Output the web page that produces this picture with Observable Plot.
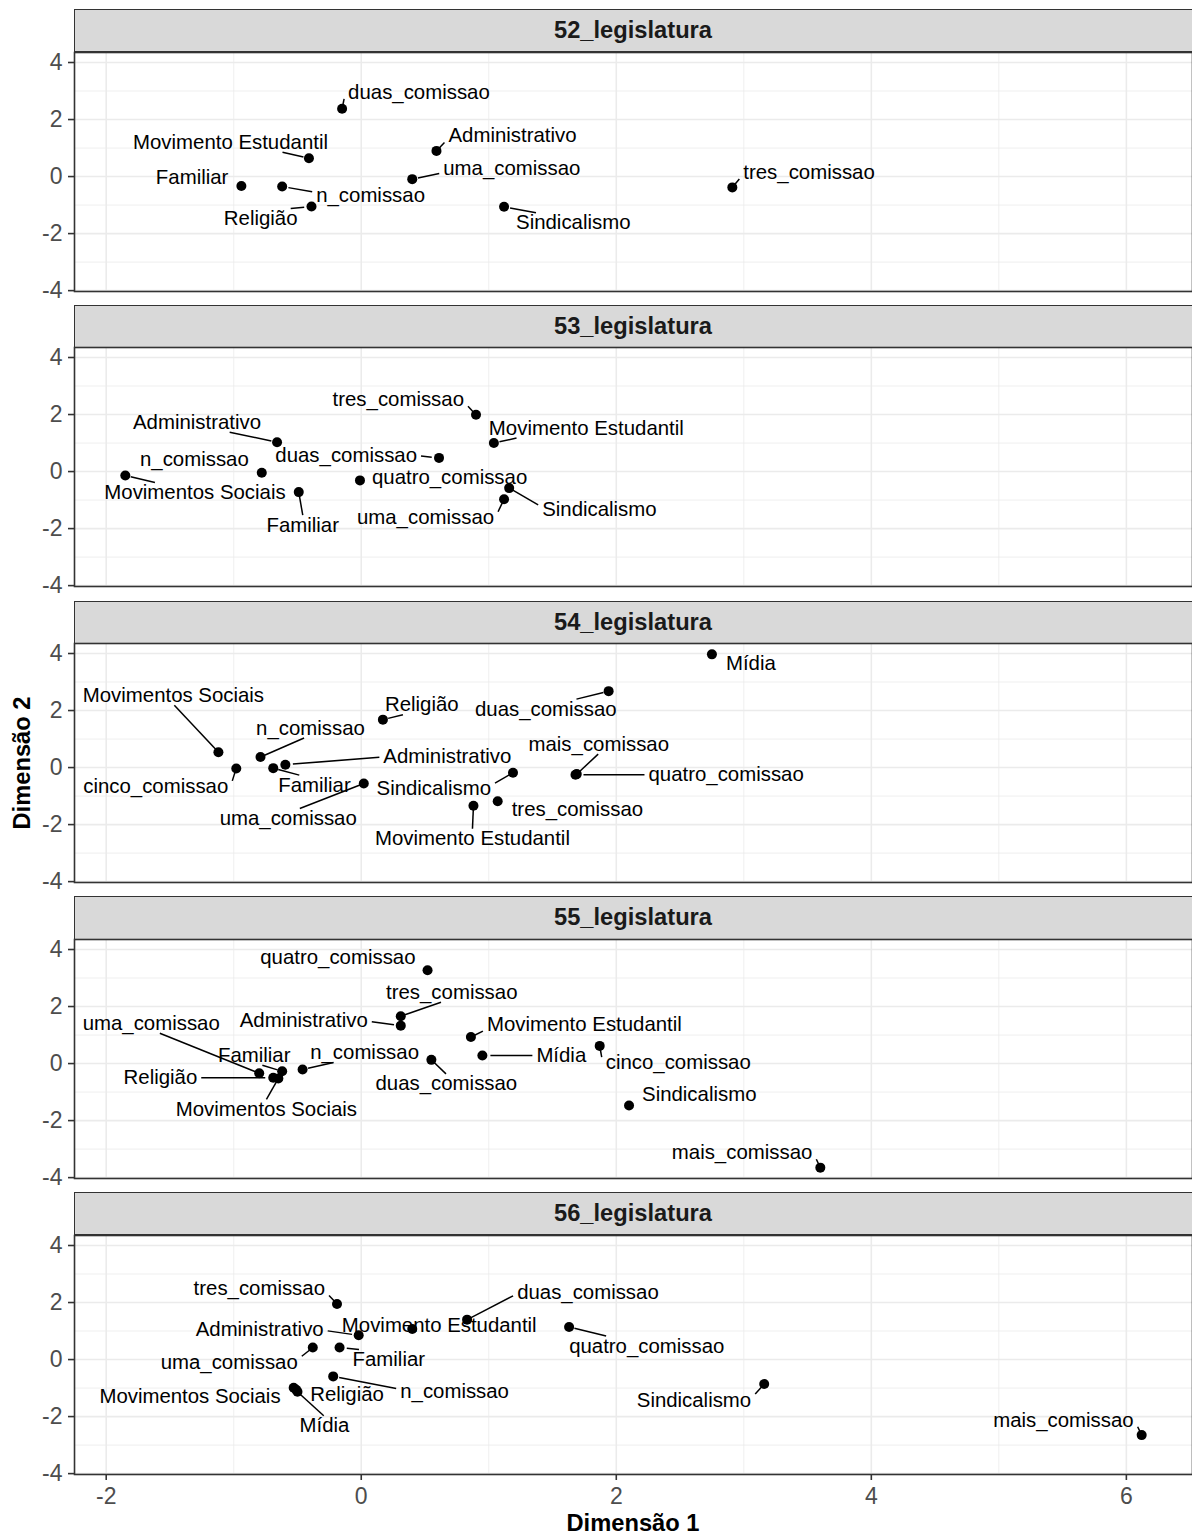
<!DOCTYPE html>
<html>
<head>
<meta charset="utf-8">
<script src="https://cdn.jsdelivr.net/npm/d3@7"></script>
<script src="https://cdn.jsdelivr.net/npm/@observablehq/plot@0.6"></script>
<style>
  html, body { margin: 0; padding: 0; background: #fff; overflow: hidden; }
  body { font-family: "Liberation Sans", Arial, Helvetica, sans-serif; }
  #chart { position: relative; width: 1192px; height: 1536px; overflow: hidden; }
  .strip { position: absolute; left: 74px; width: 1120px; box-sizing: border-box;
           background: #d9d9d9; border: 1.6px solid #333333;
           display: flex; align-items: center; justify-content: center;
           font-weight: bold; font-size: 23.7px; color: #1a1a1a; }
  .strip span { transform: translateX(-1px); }
  .panel { position: absolute; left: 0; }
  .title { position: absolute; font-weight: bold; font-size: 23.7px; color: #000; white-space: nowrap; line-height: 1; }
  svg [aria-label="y-axis tick label"], svg [aria-label="x-axis tick label"] { fill: #4d4d4d; font-size: 23px; }
  svg [aria-label="y-axis tick"], svg [aria-label="x-axis tick"] { stroke: #333333; }
</style>
</head>
<body>
<div id="chart"></div>
<script>
// ---------------- data ----------------
const legislaturas = ["52_legislatura", "53_legislatura", "54_legislatura", "55_legislatura", "56_legislatura"];

const cat52 = ["duas_comissao", "Administrativo", "Movimento Estudantil", "uma_comissao", "Familiar", "n_comissao", "Religião", "Sindicalismo", "tres_comissao"];
const dim1_52 = [-0.15, 0.59, -0.41, 0.40, -0.94, -0.62, -0.39, 1.12, 2.91];
const dim2_52 = [2.38, 0.90, 0.64, -0.09, -0.33, -0.35, -1.05, -1.06, -0.38];

const cat53 = ["tres_comissao", "Movimento Estudantil", "Administrativo", "duas_comissao", "n_comissao", "Movimentos Sociais", "quatro_comissao", "Familiar", "Sindicalismo", "uma_comissao"];
const dim1_53 = [0.90, 1.04, -0.66, 0.61, -0.78, -1.85, -0.01, -0.49, 1.16, 1.12];
const dim2_53 = [1.99, 1.00, 1.03, 0.48, -0.04, -0.14, -0.31, -0.72, -0.58, -0.97];

const cat54 = ["Movimentos Sociais", "cinco_comissao", "n_comissao", "Familiar", "Administrativo", "Religião", "uma_comissao", "Sindicalismo", "Movimento Estudantil", "tres_comissao", "duas_comissao", "Mídia", "mais_comissao", "quatro_comissao"];
const dim1_54 = [-1.12, -0.98, -0.79, -0.69, -0.595, 0.17, 0.02, 1.19, 0.88, 1.07, 1.94, 2.75, 1.69, 1.68];
const dim2_54 = [0.54, -0.03, 0.37, -0.02, 0.10, 1.68, -0.56, -0.18, -1.34, -1.18, 2.68, 3.97, -0.23, -0.25];

const cat55 = ["quatro_comissao", "tres_comissao", "Administrativo", "Movimento Estudantil", "uma_comissao", "Familiar", "Religião", "Movimentos Sociais", "n_comissao", "duas_comissao", "Mídia", "cinco_comissao", "Sindicalismo", "mais_comissao"];
const dim1_55 = [0.52, 0.31, 0.31, 0.86, -0.80, -0.62, -0.69, -0.65, -0.46, 0.55, 0.95, 1.87, 2.10, 3.60];
const dim2_55 = [3.27, 1.66, 1.33, 0.93, -0.34, -0.27, -0.50, -0.52, -0.21, 0.13, 0.28, 0.62, -1.47, -3.65];

const cat56 = ["tres_comissao", "duas_comissao", "Movimento Estudantil", "Administrativo", "uma_comissao", "Familiar", "n_comissao", "Movimentos Sociais", "Religião", "Mídia", "quatro_comissao", "Sindicalismo", "mais_comissao"];
const dim1_56 = [-0.19, 0.83, 0.40, -0.02, -0.38, -0.17, -0.22, -0.53, -0.51, -0.50, 1.63, 3.16, 6.12];
const dim2_56 = [1.95, 1.40, 1.07, 0.85, 0.42, 0.42, -0.59, -0.99, -1.06, -1.13, 1.14, -0.86, -2.65];

const xTicks = [-2, 0, 2, 4, 6];
const xMinor = [-1, 1, 3, 5];
const yTicks = [-4, -2, 0, 2, 4];
const yMinor = [-3, -1, 1, 3];

// ---------------- label layout (repelled label offsets, px: [dx, dy, anchor]) ----------------
const labelNudge = {
  "52_legislatura": {
    "duas_comissao": [6, -16, "start"], "Administrativo": [12, -15, "start"], "Movimento Estudantil": [19, -16, "end"],
    "uma_comissao": [31, -11, "start"], "Familiar": [-13, -9, "end"], "n_comissao": [34, 9, "start"],
    "Religião": [-14, 12, "end"], "Sindicalismo": [12, 16, "start"], "tres_comissao": [11, -15, "start"]
  },
  "53_legislatura": {
    "tres_comissao": [-12, -15, "end"], "Movimento Estudantil": [-5, -15, "start"], "Administrativo": [-16, -20, "end"],
    "duas_comissao": [-22, -2, "end"], "n_comissao": [-13, -13, "end"], "Movimentos Sociais": [-21, 17, "start"],
    "quatro_comissao": [12, -3, "start"], "Familiar": [4, 33, "middle"], "Sindicalismo": [33, 21, "start"],
    "uma_comissao": [-10, 18, "end"]
  },
  "54_legislatura": {
    "Movimentos Sociais": [-45, -57, "middle"], "cinco_comissao": [-8, 18, "end"], "n_comissao": [50, -29, "middle"],
    "Familiar": [5, 17, "start"], "Administrativo": [98, -8, "start"], "Religião": [2, -15, "start"],
    "uma_comissao": [-7, 35, "end"], "Sindicalismo": [-22, 16, "end"], "Movimento Estudantil": [-1, 33, "middle"],
    "tres_comissao": [14, 8, "start"], "duas_comissao": [8, 18, "end"], "Mídia": [14, 9, "start"],
    "mais_comissao": [22, -30, "middle"], "quatro_comissao": [73, 0, "start"]
  },
  "55_legislatura": {
    "quatro_comissao": [-12, -13, "end"], "tres_comissao": [51, -24, "middle"], "Administrativo": [-33, -5, "end"],
    "Movimento Estudantil": [16, -13, "start"], "uma_comissao": [-108, -50, "middle"], "Familiar": [-28, -16, "middle"],
    "Religião": [-76, 0, "end"], "Movimentos Sociais": [-12, 31, "middle"], "n_comissao": [62, -17, "middle"],
    "duas_comissao": [15, 24, "middle"], "Mídia": [54, 0, "start"], "cinco_comissao": [6, 17, "start"],
    "Sindicalismo": [13, -11, "start"], "mais_comissao": [-8, -15, "end"]
  },
  "56_legislatura": {
    "tres_comissao": [-12, -15, "end"], "duas_comissao": [50, -27, "start"], "Movimento Estudantil": [27, -4, "middle"],
    "Administrativo": [-35, -6, "end"], "uma_comissao": [-15, 15, "end"], "Familiar": [13, 12, "start"],
    "n_comissao": [67, 15, "start"], "Movimentos Sociais": [-13, 9, "end"], "Religião": [14, 5, "start"],
    "Mídia": [27, 34, "middle"], "quatro_comissao": [0, 19, "start"], "Sindicalismo": [-13, 16, "end"],
    "mais_comissao": [-8, -15, "end"]
  }
};

// ---------------- build tables ----------------
const series = [
  [cat52, dim1_52, dim2_52], [cat53, dim1_53, dim2_53], [cat54, dim1_54, dim2_54],
  [cat55, dim1_55, dim2_55], [cat56, dim1_56, dim2_56]
];
const facets = legislaturas.map((leg, i) => {
  const [c, a, b] = series[i];
  return { leg, rows: c.map((label, j) => ({ label, x: a[j], y: b[j], leg })) };
});

// shared scales with ggplot's 5% expansion
const allX = facets.flatMap(f => f.rows.map(r => r.x));
const allY = facets.flatMap(f => f.rows.map(r => r.y));
function expand(v) { const lo = d3.min(v), hi = d3.max(v), r = hi - lo; return [lo - 0.05 * r, hi + 0.05 * r]; }
const xDom = expand(allX), yDom = expand(allY);

// geometry
const W = 1192, ML = 74, PW = W - ML, PH = 239;
const STRIP_TOP = 9, STRIP_H = 42.6, STEP = 295.75;
const LABEL_FS = 20.4;
const PAD_R = 8, MIN_SEG = 5, BOX_HH = 10, BOX_PX = 4;

const ctx = document.createElement("canvas").getContext("2d");
ctx.font = `${LABEL_FS}px "Liberation Sans", Arial, sans-serif`;
const textWidth = s => ctx.measureText(s).width;

const toN = (x, y) => [(x - xDom[0]) / (xDom[1] - xDom[0]), (y - yDom[0]) / (yDom[1] - yDom[0])];
const fromN = (nx, ny) => [xDom[0] + nx * (xDom[1] - xDom[0]), yDom[0] + ny * (yDom[1] - yDom[0])];

function selectLineConnection(p, b) {
  const out = [0, 0];
  let top = false, left = false, right = false, bottom = false;
  if (p[0] >= b[0] && p[0] <= b[2]) out[0] = p[0];
  else if (p[0] > b[2]) { out[0] = b[2]; right = true; }
  else { out[0] = b[0]; left = true; }
  if (p[1] >= b[1] && p[1] <= b[3]) out[1] = p[1];
  else if (p[1] > b[3]) { out[1] = b[3]; top = true; }
  else { out[1] = b[1]; bottom = true; }
  const midx = (b[0] + b[2]) / 2, midy = (b[1] + b[3]) / 2;
  const d = Math.hypot(p[0] - out[0], p[1] - out[1]);
  if ((top || bottom) && !(left || right)) {
    const altd = Math.hypot(p[0] - midx, p[1] - out[1]);
    out[0] = out[0] + (midx - out[0]) * d / altd;
  } else if ((left || right) && !(top || bottom)) {
    const altd = Math.hypot(p[0] - out[0], p[1] - midy);
    out[1] = out[1] + (midy - out[1]) * d / altd;
  } else if ((left || right) && (top || bottom)) {
    const altd1 = Math.hypot(p[0] - midx, p[1] - out[1]);
    const altd2 = Math.hypot(p[0] - out[0], p[1] - midy);
    if (altd1 < altd2) out[0] = out[0] + (midx - out[0]) * d / altd1;
    else out[1] = out[1] + (midy - out[1]) * d / altd2;
  }
  return out;
}

function layoutLabels(f) {
  const labels = [], segs = [];
  for (const r of f.rows) {
    const [dx, dy, anchor] = labelNudge[f.leg][r.label];
    const w = textWidth(r.label);
    const cx = dx + (anchor === "start" ? w / 2 : anchor === "end" ? -w / 2 : 0);
    const p = toN(r.x, r.y);
    const c = [p[0] + cx / PW, p[1] - dy / PH];
    const [lx, ly] = fromN(c[0], c[1]);
    labels.push({ label: r.label, lx, ly });
    const hw = (w / 2 + BOX_PX) / PW, hh = BOX_HH / PH;
    const box = [c[0] - hw, c[1] - hh, c[0] + hw, c[1] + hh];
    const inside = p[0] >= box[0] && p[0] <= box[2] && p[1] >= box[1] && p[1] <= box[3];
    if (inside) continue;
    const it = selectLineConnection(p, box);
    const full = Math.hypot(it[0] - p[0], it[1] - p[1]);
    if (full === 0) continue;
    const rad = PAD_R / PW;
    if (full <= rad) continue;
    const pi = [p[0] + (it[0] - p[0]) * rad / full, p[1] + (it[1] - p[1]) * rad / full];
    const ddx = Math.abs(it[0] - pi[0]), ddy = Math.abs(it[1] - pi[1]);
    const d = Math.hypot(ddx, ddy);
    const mx = MIN_SEG / PW, my = MIN_SEG / PH;
    const minLen = Math.hypot(mx * ddx / d, my * ddy / d);
    if (d > minLen) {
      const a = fromN(pi[0], pi[1]), b = fromN(it[0], it[1]);
      segs.push({ x1: a[0], y1: a[1], x2: b[0], y2: b[1] });
    }
  }
  return { labels, segs };
}

// ---------------- render ----------------
const root = document.getElementById("chart");
const fontFamily = '"Liberation Sans", Arial, Helvetica, sans-serif';

facets.forEach((f, i) => {
  const top = STRIP_TOP + i * STEP;
  const strip = document.createElement("div");
  strip.className = "strip";
  strip.style.top = top + "px";
  strip.style.height = (STRIP_H + 0.8) + "px";
  strip.innerHTML = `<span>${f.leg}</span>`;
  root.appendChild(strip);

  const last = i === facets.length - 1;
  const MB = last ? 1536 - (top + STRIP_H + PH) : 0;
  const { labels, segs } = layoutLabels(f);

  const marks = [
    Plot.ruleX(xMinor, { stroke: "#ebebeb", strokeWidth: 0.8 }),
    Plot.ruleY(yMinor, { stroke: "#ebebeb", strokeWidth: 0.8 }),
    Plot.ruleX(xTicks, { stroke: "#ebebeb", strokeWidth: 1.6 }),
    Plot.ruleY(yTicks, { stroke: "#ebebeb", strokeWidth: 1.6 }),
    Plot.axisY(yTicks, { tickSize: 6, tickPadding: 6, fontSize: 23, strokeWidth: 1.6,
                         stroke: "#333333", fill: "#4d4d4d", tickFormat: d => String(d), label: null }),
    Plot.link(segs, { x1: "x1", y1: "y1", x2: "x2", y2: "y2", stroke: "black", strokeWidth: 1.5 }),
    Plot.dot(f.rows, { x: "x", y: "y", r: 5, fill: "black", stroke: null }),
    Plot.text(labels, { x: "lx", y: "ly", text: "label", fontSize: LABEL_FS, fill: "black",
                        textAnchor: "middle", lineAnchor: "middle" }),
    Plot.frame({ stroke: "#333333", strokeWidth: 1.6 })
  ];
  if (last) {
    marks.push(Plot.axisX(xTicks, { tickSize: 6, tickPadding: 7.5, fontSize: 23, strokeWidth: 1.6,
                                    stroke: "#333333", fill: "#4d4d4d", tickFormat: d => String(d), label: null }));
  }

  const svg = Plot.plot({
    width: W,
    height: PH + MB,
    marginLeft: ML, marginRight: 0, marginTop: 0, marginBottom: MB,
    x: { domain: xDom, axis: null },
    y: { domain: yDom, axis: null },
    style: { fontFamily, background: "transparent", overflow: "visible" },
    marks
  });
  svg.classList.add("panel");
  svg.style.top = (top + STRIP_H) + "px";
  svg.style.maxWidth = "none";
  root.appendChild(svg);
});

// axis titles
const panelsTop = STRIP_TOP + STRIP_H;
const panelsBottom = STRIP_TOP + 4 * STEP + STRIP_H + PH;
const xt = document.createElement("div");
xt.className = "title";
xt.textContent = "Dimensão 1";
xt.style.left = (ML + PW / 2) + "px";
xt.style.top = "1524px";
xt.style.transform = "translate(-50%, -50%)";
root.appendChild(xt);

const yt = document.createElement("div");
yt.className = "title";
yt.textContent = "Dimensão 2";
yt.style.left = "23px";
yt.style.top = ((panelsTop + panelsBottom) / 2) + "px";
yt.style.transform = "translate(-50%, -50%) rotate(-90deg)";
root.appendChild(yt);
</script>
</body>
</html>
